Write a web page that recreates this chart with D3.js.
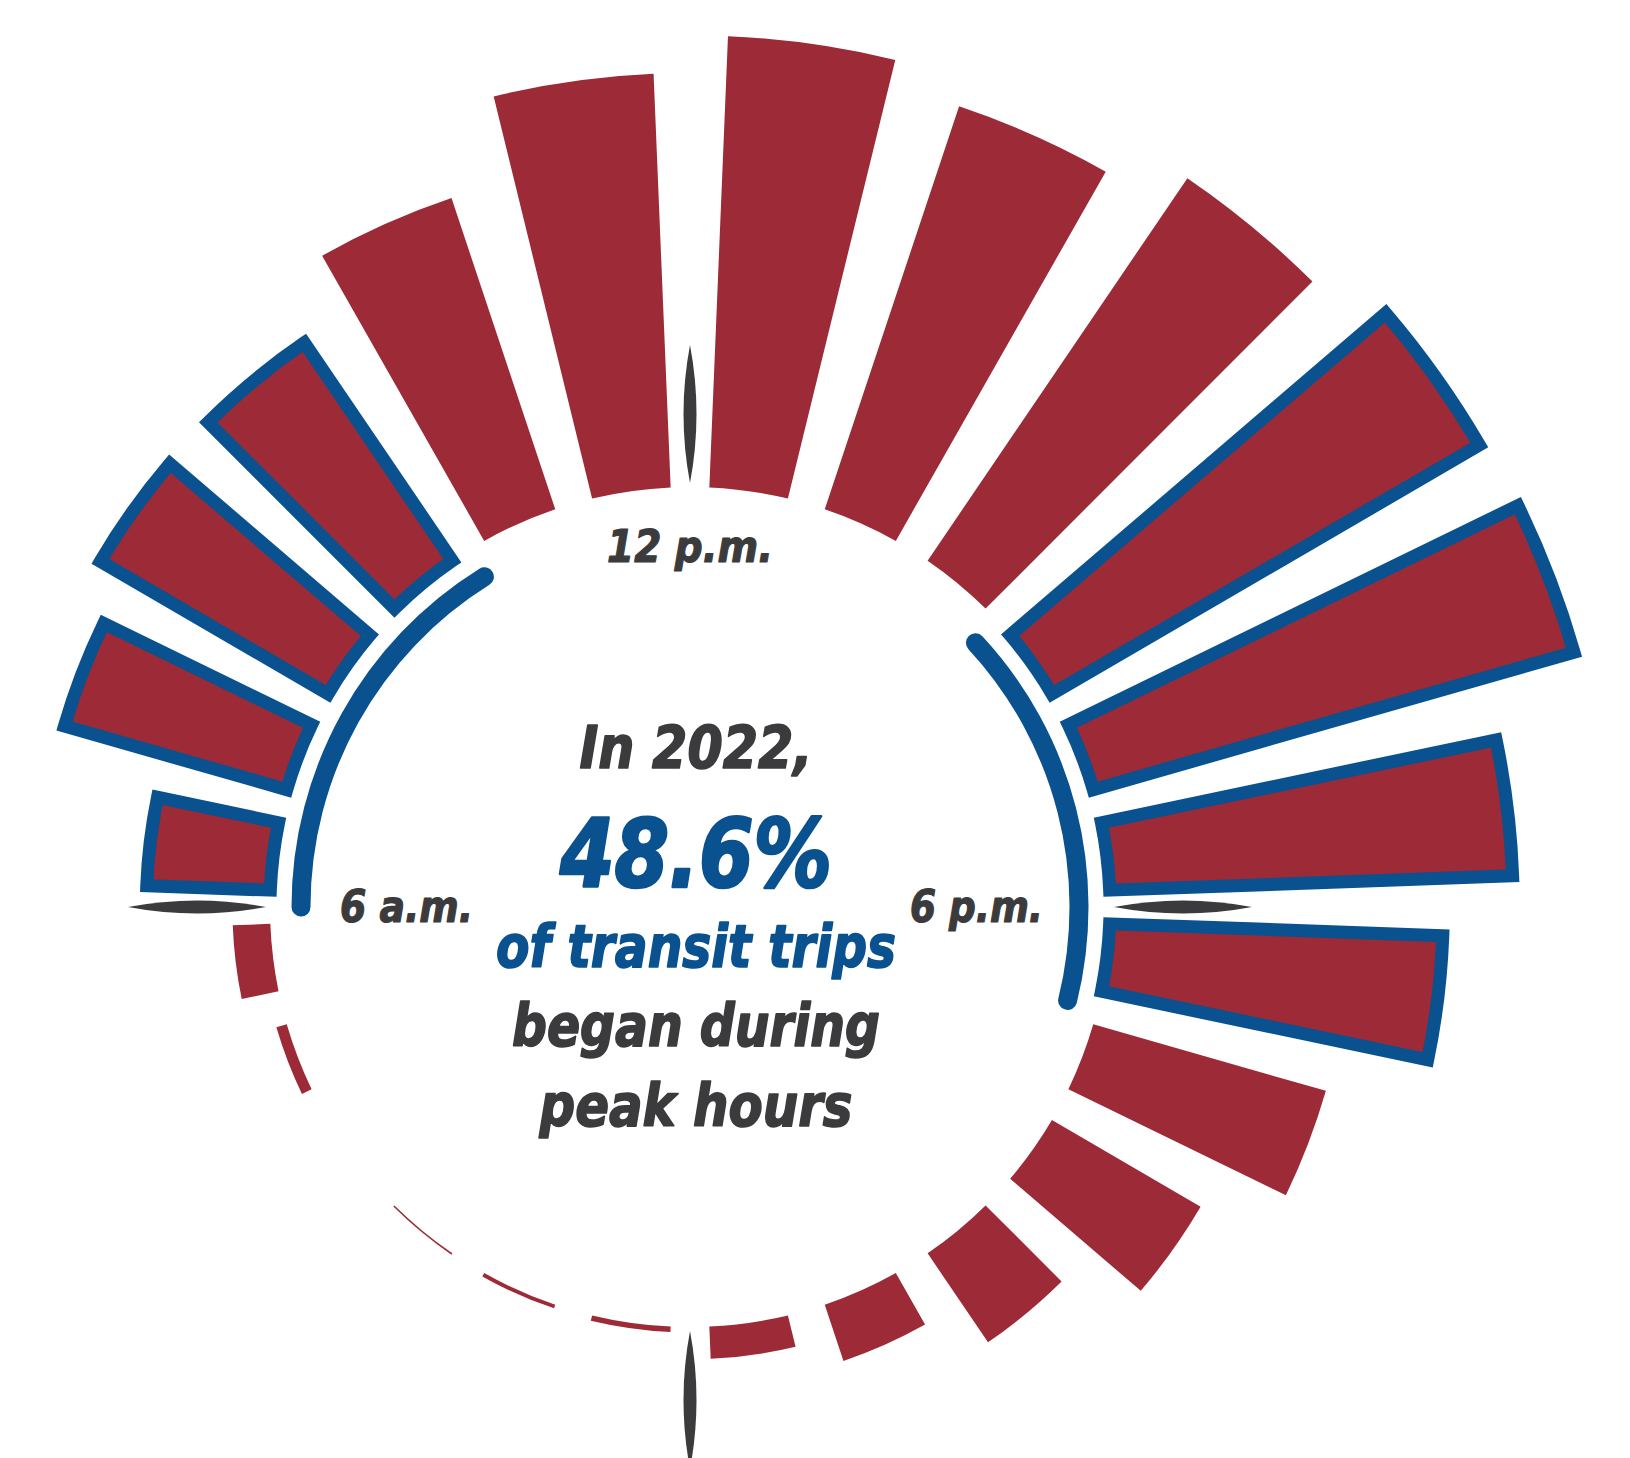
<!DOCTYPE html>
<html>
<head>
<meta charset="utf-8">
<script src="https://cdn.jsdelivr.net/npm/d3@7"></script>
<style>
  html, body { margin: 0; padding: 0; background: #fff; }
  svg { display: block; }
  text { font-family: "DejaVu Sans Condensed", "Liberation Sans Narrow", sans-serif; font-weight: bold; font-style: italic; paint-order: stroke; stroke-linejoin: round; }
</style>
</head>
<body>
<svg id="chart" width="1630" height="1458"></svg>
<script>
// Share of the day's transit trips that began in each hour (%), hour 0 = midnight
const hours = d3.range(24);
const tripShare = [0.1, 0.07, 0.03, 0, 0.2, 0.7, 2.3, 4.3, 4.9, 4.9, 6.1, 7.7,
                   8.4, 7.9, 8.6, 9.2, 9.3, 7.5, 6.2, 4.5, 3.2, 2.0, 1.1, 0.6];
// Peak periods: 6–10 a.m. and 3–7 p.m.
const peakHours = [6, 7, 8, 9, 15, 16, 17, 18];
const peakWindows = [[6, 10], [15, 19]];
const clockTicks = [0, 6, 12, 18];
const clockLabels = [
  { hour: 12, text: "12 p.m." },
  { hour: 6, text: "6 a.m." },
  { hour: 18, text: "6 p.m." }
];
const headline = [
  { text: "In 2022,", kind: "lead" },
  { text: "48.6%", kind: "figure" },
  { text: "of transit trips", kind: "accent" },
  { text: "began during", kind: "lead" },
  { text: "peak hours", kind: "lead" }
];

const RED = "#9d2a37", BLUE = "#09518f", INK = "#3b3b3d";
const cx = 690, cy = 907;
const innerR = 420;

const svg = d3.select("#chart");
const g = svg.append("g").attr("transform", `translate(${cx},${cy})`);

// Noon sits at the top; the clock runs clockwise, midnight at the bottom.
const clockOrder = hours.map(i => (i + 12) % 24);
const angle = d3.scaleBand()
  .domain(clockOrder)
  .range([0, 2 * Math.PI])
  .paddingInner(0.293)
  .paddingOuter(0.1465);
const hourAngle = d3.scaleLinear().domain([12, 36]).range([0, 2 * Math.PI]);
const toClock = h => (h < 12 ? h + 24 : h);

// The dial is drawn slightly "pinched": slots lean toward the 3 and 9 o'clock
// axes in the diagonal quadrants, while the four quarter marks stay put.
const LEAN = 2.2 * Math.PI / 180;
const dial = a => a + LEAN * Math.sin(2 * a);

const radius = d3.scaleLinear().domain([0, 9.3]).range([innerR, innerR + 500]);

const bar = d3.arc()
  .innerRadius(innerR)
  .outerRadius(d => radius(d.value))
  .startAngle(d => dial(angle(d.hour)))
  .endAngle(d => dial(angle(d.hour) + angle.bandwidth()))
  .padAngle(4 / innerR)
  .padRadius(innerR);

const barData = hours.map(h => ({ hour: h, value: tripShare[h], peak: peakHours.includes(h) }));

g.append("g").selectAll("path")
  .data(barData.filter(d => d.value > 0))
  .join("path")
  .attr("d", bar)
  .attr("fill", RED)
  .attr("stroke", d => d.peak ? BLUE : "none")
  .attr("stroke-width", d => d.peak ? 13 : 0)
  .attr("stroke-linejoin", "miter");

// Peak-period brackets inside the ring
const bracketR = 389, bracketW = 19;
const capAngle = (bracketW / 2) / bracketR;
const bracket = d3.arc()
  .innerRadius(bracketR - bracketW / 2)
  .outerRadius(bracketR + bracketW / 2)
  .cornerRadius(bracketW / 2)
  .startAngle(d => dial(hourAngle(toClock(d[0]))) - capAngle)
  .endAngle(d => dial(hourAngle(toClock(d[1]))) + capAngle);

g.append("g").selectAll("path")
  .data(peakWindows)
  .join("path")
  .attr("d", bracket)
  .attr("fill", BLUE);

// Lens-shaped clock ticks at midnight, 6, noon and 18
const tickR0 = 424, tickR1 = 562, tickW = 13;
function lens() {
  const p = d3.path();
  const mid = (tickR0 + tickR1) / 2;
  p.moveTo(0, -tickR0);
  p.quadraticCurveTo(tickW, -mid, 0, -tickR1);
  p.quadraticCurveTo(-tickW, -mid, 0, -tickR0);
  p.closePath();
  return p.toString();
}
g.append("g").selectAll("path")
  .data(clockTicks)
  .join("path")
  .attr("transform", h => `rotate(${dial(hourAngle(toClock(h))) * 180 / Math.PI})`)
  .attr("d", lens())
  .attr("fill", INK);

// Clock labels just inside the brackets
const labelPos = {
  12: { x: 0, y: -345, anchor: "middle", len: 166 },
  6: { x: -350, y: 15, anchor: "start", len: 133 },
  18: { x: 220, y: 15, anchor: "start", len: 133 }
};
g.append("g").selectAll("text")
  .data(clockLabels)
  .join("text")
  .attr("x", d => labelPos[d.hour].x)
  .attr("y", d => labelPos[d.hour].y)
  .attr("text-anchor", d => labelPos[d.hour].anchor)
  .attr("textLength", d => labelPos[d.hour].len)
  .attr("lengthAdjust", "spacingAndGlyphs")
  .attr("font-size", 45)
  .attr("fill", INK)
  .attr("stroke", INK)
  .attr("stroke-width", 1.2)
  .text(d => d.text);

// Central statement
const lineStyle = {
  lead: { size: 59, color: INK, weight: 1.6 },
  figure: { size: 94, color: BLUE, weight: 2.6 },
  accent: { size: 59, color: BLUE, weight: 1.6 }
};
const lineBase = [768, 887, 967, 1046, 1126];
const lineLen = [233, 272, 400, 368, 313];
svg.append("g").selectAll("text")
  .data(headline)
  .join("text")
  .attr("x", 696)
  .attr("y", (d, i) => lineBase[i])
  .attr("text-anchor", "middle")
  .attr("textLength", (d, i) => lineLen[i])
  .attr("lengthAdjust", "spacingAndGlyphs")
  .attr("font-size", d => lineStyle[d.kind].size)
  .attr("fill", d => lineStyle[d.kind].color)
  .attr("stroke", d => lineStyle[d.kind].color)
  .attr("stroke-width", d => lineStyle[d.kind].weight)
  .text(d => d.text);
</script>
</body>
</html>
